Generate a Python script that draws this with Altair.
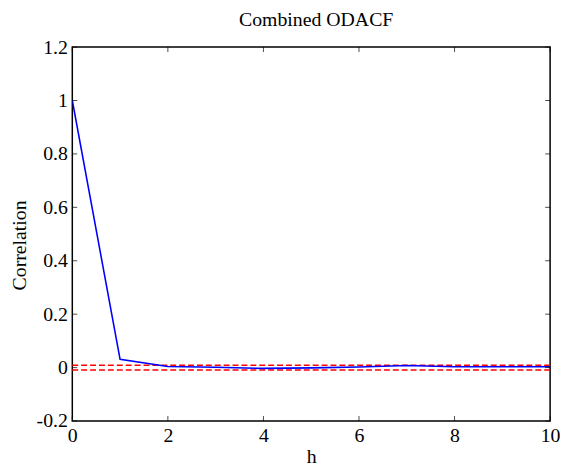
import altair as alt
import pandas as pd

lags = [0, 1, 2, 3, 4, 5, 6, 7, 8, 9, 10]
odacf = [1.0, 0.031, 0.004, 0.001, -0.003, -0.001, 0.002, 0.008, 0.003, 0.003, 0.003]
bound = 0.009
xticks = [0, 2, 4, 6, 8, 10]
yticks = [-0.2, 0, 0.2, 0.4, 0.6, 0.8, 1, 1.2]

FONT = "Liberation Serif"

df = pd.DataFrame({"h": lags, "r": odacf})
bounds = pd.DataFrame({"b": [bound, -bound], "x0": [0, 0], "x1": [10, 10]})
xt = pd.DataFrame({"t": xticks})
yt = pd.DataFrame({"t": yticks})

xscale = alt.Scale(domain=[0, 10], nice=False, zero=False)
yscale = alt.Scale(domain=[-0.2, 1.2], nice=False, zero=False)

xaxis = alt.Axis(values=xticks, title="h", ticks=False, grid=False, domain=False,
                 labelFlush=False, labelOverlap=False, labelExpr="'' + datum.value",
                 labelPadding=5, titlePadding=1)
yaxis = alt.Axis(values=yticks, title="Correlation", ticks=False, grid=False, domain=False,
                 labelFlush=False, labelOverlap=False, labelExpr="'' + datum.value",
                 labelPadding=5, titlePadding=7, titleY=200)

line = alt.Chart(df).mark_line(color="#0000FF", strokeWidth=1.6, clip=True).encode(
    x=alt.X("h:Q", scale=xscale, axis=xaxis),
    y=alt.Y("r:Q", scale=yscale, axis=yaxis),
)

conf = alt.Chart(bounds).mark_rule(color="#FF0000", strokeDash=[6, 3], strokeWidth=1.4).encode(
    x=alt.X("x0:Q", scale=xscale),
    x2="x1:Q",
    y=alt.Y("b:Q", scale=yscale),
)

TK = 5
xt_bot = alt.Chart(xt).mark_tick(orient="vertical", size=TK, thickness=1, color="black", yOffset=-TK / 2).encode(
    x=alt.X("t:Q", scale=xscale), y=alt.datum(-0.2))
xt_top = alt.Chart(xt).mark_tick(orient="vertical", size=TK, thickness=1, color="black", yOffset=TK / 2).encode(
    x=alt.X("t:Q", scale=xscale), y=alt.datum(1.2))
yt_left = alt.Chart(yt).mark_tick(orient="horizontal", size=TK, thickness=1, color="black", xOffset=TK / 2).encode(
    y=alt.Y("t:Q", scale=yscale), x=alt.datum(0))
yt_right = alt.Chart(yt).mark_tick(orient="horizontal", size=TK, thickness=1, color="black", xOffset=-TK / 2).encode(
    y=alt.Y("t:Q", scale=yscale), x=alt.datum(10))

chart = alt.layer(conf, line, xt_bot, xt_top, yt_left, yt_right).properties(
    width=483,
    height=378,
    title=alt.TitleParams("Combined ODACF", font=FONT, fontSize=20, fontWeight="normal",
                          anchor="middle", offset=7, dx=5, color="black"),
    autosize=alt.AutoSizeParams(type="none"),
    padding={"left": 65, "top": 37, "right": 10, "bottom": 45},
    background="white",
).configure_view(
    stroke="black", strokeWidth=1.5
).configure_axis(
    labelFont=FONT, titleFont=FONT, labelFontSize=20, titleFontSize=20,
    labelColor="black", titleColor="black", titleFontWeight="normal",
)

chart.save("out.html", embed_options={"renderer": "svg", "actions": False})
